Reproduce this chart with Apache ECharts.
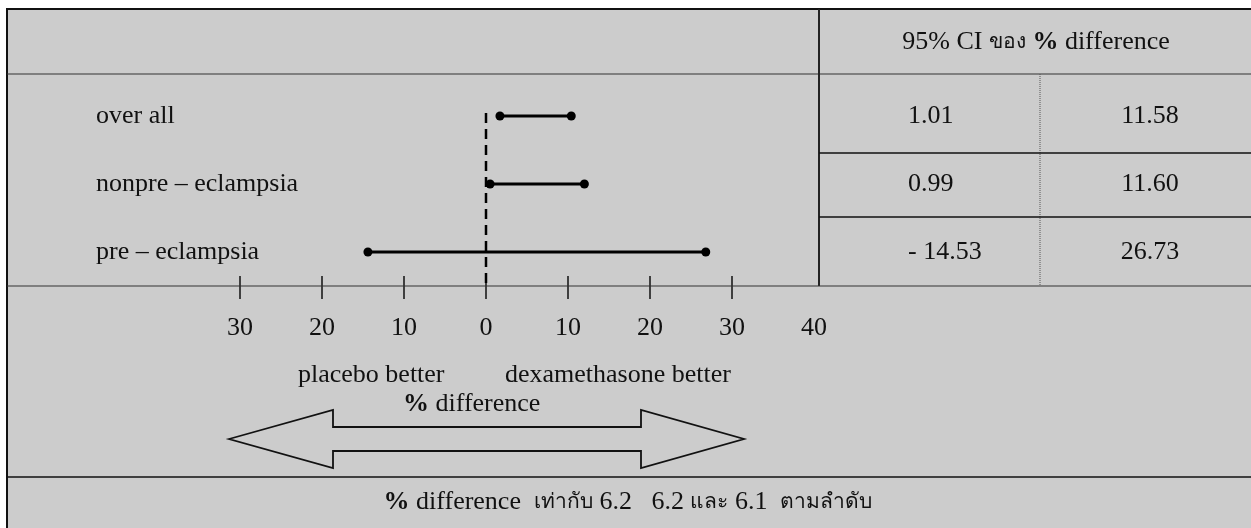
<!DOCTYPE html>
<html><head><meta charset="utf-8">
<script src="https://cdn.jsdelivr.net/npm/echarts@6/dist/echarts.min.js"></script>
<style>html,body{margin:0;padding:0;background:#fff}#c{width:1251px;height:528px}</style>
</head><body><div id="c"></div>
<script>
// ---- data ----
const categories = ['over all', 'nonpre – eclampsia', 'pre – eclampsia'];
const lowerDrawn = [1.7, 0.5, -14.4];
const upperDrawn = [10.4, 12.0, 26.8];
const ciLower = ['1.01', '0.99', '- 14.53'];
const ciUpper = ['11.58', '11.60', '26.73'];
const tickValues = [-30, -20, -10, 0, 10, 20, 30];
const labelValues = [-30, -20, -10, 0, 10, 20, 30, 40];
const headerParts = ['95% CI ', 'ของ', ' ', '%', ' difference'];
const leftNote = 'placebo better';
const rightNote = 'dexamethasone better';
const arrowLabel = ['%', ' difference'];
const footerParts = ['%', ' difference  ', 'เท่ากับ', ' 6.2   6.2 ', 'และ', ' 6.1  ', 'ตามลำดับ'];

// ---- style ----
const FONT = "'Liberation Serif','Times New Roman','DejaVu Serif',serif";
const FS = 26;
const TFS = 21;
const GRAY = '#cccccc';

const chart = echarts.init(document.getElementById('c'), null, {renderer: 'canvas'});
const rowData = categories.map((c, i) => [lowerDrawn[i], upperDrawn[i], i]);

const RICH = {
  b: {fontFamily: FONT, fontSize: FS, fontWeight: 'bold', fill: '#111'},
  t: {fontFamily: FONT, fontSize: TFS, fill: '#111'},
  n: {fontFamily: FONT, fontSize: FS, fill: '#111'}
};
const txt = (x, y, text, align) => ({
  type: 'text', z: 5,
  style: {x, y, text, align: align || 'left', verticalAlign: 'middle',
    fontFamily: FONT, fontSize: FS, fill: '#111', rich: RICH}
});
const hline = (x1, x2, y, w, c, dash) => ({type: 'line', z: 1, shape: {x1, y1: y, x2, y2: y},
  style: {stroke: c || '#222', lineWidth: w || 1, lineDash: dash || null}});
const vline = (x, y1, y2, w, c, dash) => ({type: 'line', z: 1, shape: {x1: x, y1, x2: x, y2},
  style: {stroke: c || '#222', lineWidth: w || 1, lineDash: dash || null}});

const option = {
  animation: false,
  backgroundColor: '#ffffff',
  grid: {left: 240, right: 437, top: 82, bottom: 242},
  xAxis: [{
    type: 'value', min: -30, max: 40,
    axisLine: {show: false},
    splitLine: {show: false},
    axisTick: {show: true, customValues: tickValues, length: 13, lineStyle: {color: '#111', width: 1.5}},
    axisLabel: {customValues: labelValues, formatter: v => String(Math.abs(v)), margin: 29,
      fontFamily: FONT, fontSize: FS, color: '#111'}
  }, {
    type: 'value', min: -30, max: 40, position: 'bottom',
    axisLine: {show: false}, splitLine: {show: false},
    axisTick: {show: true, inside: true, customValues: tickValues, length: 10, lineStyle: {color: '#111', width: 1.5}},
    axisLabel: {show: false}
  }],
  yAxis: {
    type: 'category', data: categories, inverse: true,
    axisLine: {show: false}, axisTick: {show: false}, splitLine: {show: false},
    axisLabel: {align: 'left', margin: 144, fontFamily: FONT, fontSize: FS, color: '#111'}
  },
  series: [{
    type: 'custom', z: 4, clip: false,
    data: [[0]],
    encode: {x: 0},
    renderItem: (params, api) => {
      const p = api.coord([0, 0]);
      const cs = params.coordSys;
      return {type: 'line', shape: {x1: p[0], y1: p[1] - 3, x2: p[0], y2: cs.y + cs.height + 1},
        style: {stroke: '#000', lineWidth: 2.5, lineDash: [10, 6]}};
    }
  }, {
    type: 'custom', z: 6, clip: false,
    data: rowData,
    encode: {x: [0, 1], y: 2},
    renderItem: (params, api) => {
      const i = api.value(2);
      const a = api.coord([api.value(0), i]);
      const b = api.coord([api.value(1), i]);
      return {type: 'group', children: [
        {type: 'line', shape: {x1: a[0], y1: a[1], x2: b[0], y2: b[1]}, style: {stroke: '#000', lineWidth: 3}},
        {type: 'circle', shape: {cx: a[0], cy: a[1], r: 4.5}, style: {fill: '#000'}},
        {type: 'circle', shape: {cx: b[0], cy: b[1], r: 4.5}, style: {fill: '#000'}},
        {type: 'text', style: {x: 908, y: a[1], text: ciLower[i], align: 'left', verticalAlign: 'middle',
          fontFamily: FONT, fontSize: FS, fill: '#111'}},
        {type: 'text', style: {x: 1150, y: a[1], text: ciUpper[i], align: 'center', verticalAlign: 'middle',
          fontFamily: FONT, fontSize: FS, fill: '#111'}}
      ]};
    }
  }],
  graphic: [
    {type: 'rect', z: -10, shape: {x: 7, y: 9, width: 1250, height: 525},
      style: {fill: GRAY, stroke: '#111', lineWidth: 2}},
    hline(7, 1251, 74, 1, '#333'),
    vline(819, 9, 286, 2, '#222'),
    hline(7, 1251, 286, 1.2, '#333'),
    vline(1040, 74, 286, 1, '#555', [1, 1]),
    hline(819, 1251, 153, 1.5, '#111'),
    hline(819, 1251, 217, 1.5, '#111'),
    hline(7, 1251, 477, 1.5, '#111'),
    txt(1036, 42, '{n|' + headerParts[0] + '}{t|' + headerParts[1] + '}{n|' + headerParts[2] + '}{b|' +
      headerParts[3] + '}{n|' + headerParts[4] + '}', 'center'),
    txt(298, 375, leftNote, 'left'),
    txt(505, 375, rightNote, 'left'),
    txt(403, 404, '{b|' + arrowLabel[0] + '}{n|' + arrowLabel[1] + '}', 'left'),
    {type: 'polygon', z: 3, shape: {points: [[229, 439], [333, 410], [333, 427], [641, 427], [641, 410],
      [744, 439], [641, 468], [641, 451], [333, 451], [333, 468]]},
      style: {fill: 'none', stroke: '#111', lineWidth: 1.8}},
    txt(628, 502, '{b|' + footerParts[0] + '}{n|' + footerParts[1] + '}{t|' + footerParts[2] + '}{n|' +
      footerParts[3] + '}{t|' + footerParts[4] + '}{n|' + footerParts[5] + '}{t|' + footerParts[6] + '}', 'center')
  ]
};
chart.setOption(option);
</script></body></html>
